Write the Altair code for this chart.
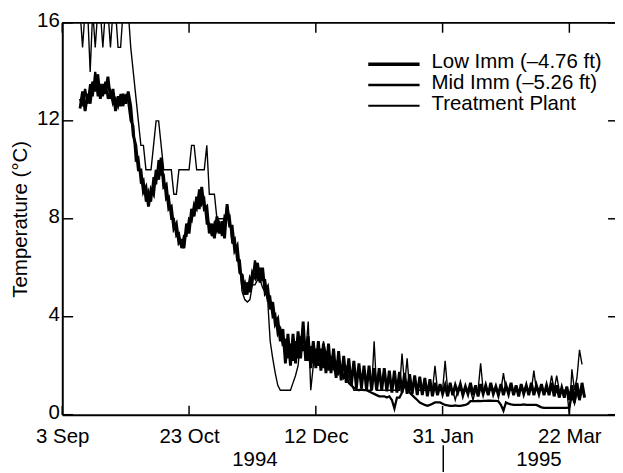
import altair as alt
import pandas as pd

# ---------------- data ----------------
series_names = ["Low Imm (\u20134.76 ft)", "Mid Imm (\u20135.26 ft)", "Treatment Plant"]
series_start = "1994-09-10"

low_imm = [
    12.5, 13.2, 12.4, 13.1, 12.7, 13.6, 13.2, 13.9, 12.9, 13.5,
    13.1, 13.8, 12.9, 13.3, 12.4, 13.0, 12.6, 13.1, 12.7, 13.2,
    12.6, 11.4, 11.0, 10.0, 10.0, 9.1, 9.3, 8.5, 9.2, 9.0,
    10.0, 9.6, 10.5, 9.3, 9.4, 8.4, 8.5, 7.6, 7.8, 7.0,
    7.1, 6.8, 7.8, 7.4, 8.4, 8.1, 8.9, 8.4, 9.3, 8.4,
    8.5, 7.4, 7.8, 7.2, 8.1, 7.4, 7.9, 7.2, 8.6, 7.7,
    7.7, 6.7, 6.9, 5.8, 5.7, 4.9, 5.4, 5.0, 5.8, 5.6,
    6.2, 5.4, 6.0, 5.0, 5.2, 4.3, 4.6, 3.7, 3.9, 3.0,
    3.5, 2.1, 3.3, 2.0, 3.3, 2.1, 3.4, 2.3, 3.8, 2.2,
    3.2, 1.9, 3.0, 1.9, 3.0, 1.8, 2.9, 1.7, 2.9, 1.7,
    2.7, 1.5, 2.6, 1.4, 2.4, 1.3, 2.3, 1.2, 2.2, 1.1,
    2.1, 1.1, 2.0, 1.0, 2.0, 1.0, 1.9, 1.0, 1.9, 1.0,
    1.9, 0.95, 1.8, 0.9, 1.8, 0.9, 1.75, 0.9, 1.7, 0.85,
    1.65, 0.85, 1.6, 0.8, 1.55, 0.8, 1.5, 0.75, 1.45, 0.75,
    1.3, 0.8, 1.25, 0.85, 1.2, 0.75, 1.3, 0.8, 1.2, 0.9,
    1.25, 0.8, 1.15, 0.85, 1.3, 0.8, 1.2, 0.75, 1.25, 0.85,
    1.2, 0.8, 1.3, 0.85, 1.15, 0.8, 1.25, 0.8, 1.2, 0.85,
    1.3, 0.8, 1.2, 0.75, 1.25, 0.85, 1.2, 0.8, 1.3, 0.8,
    1.2, 0.85, 1.25, 0.8, 1.2, 0.8, 1.3, 0.75, 1.2, 0.7,
    1.1, 0.7, 1.15, 0.6, 1.2, 0.5, 1.3, 0.6, 1.3, 0.7,
]

mid_imm = [
    12.9, 12.6, 13.3, 12.7, 13.5, 13.0, 14.0, 13.0, 13.5, 13.0,
    13.6, 12.9, 13.2, 12.7, 12.9, 12.6, 13.1, 12.6, 13.0, 12.8,
    12.0, 11.8, 10.4, 10.5, 9.5, 9.6, 8.7, 9.1, 8.7, 9.7,
    9.4, 10.4, 9.8, 9.8, 8.8, 8.9, 8.0, 8.0, 7.3, 7.4,
    6.8, 7.3, 7.3, 8.0, 7.9, 8.6, 8.4, 9.2, 8.6, 8.8,
    7.8, 7.8, 7.3, 7.8, 7.5, 7.8, 7.3, 8.1, 8.0, 8.1,
    7.1, 7.2, 6.3, 6.3, 5.2, 5.4, 4.9, 5.6, 5.4, 6.3,
    5.5, 6.0, 5.5, 5.5, 4.7, 4.8, 4.0, 4.1, 3.3, 3.5,
    2.8, 3.1, 2.3, 2.9, 2.2, 3.0, 2.3, 3.2, 2.6, 3.0,
    2.2, 2.8, 2.1, 2.7, 2.0, 2.7, 1.9, 2.6, 1.8, 2.4,
    1.9, 2.1, 1.7, 1.9, 1.5, 1.6, 1.3, 1.2, 1.1, 1.05,
    1.0, 1.05, 1.0, 1.0, 0.95, 0.9, 0.85, 0.8, 0.75, 0.75,
    0.75, 0.7, 0.75, 0.6, 0.25, 0.7, 0.7, 0.9, 1.2, 1.1,
    0.9, 0.8, 0.7, 0.6, 0.5, 0.45, 0.4, 0.36, 0.4, 0.45,
    0.5, 0.5, 0.5, 0.45, 0.4, 0.38, 0.36, 0.36, 0.38, 0.36,
    0.36, 0.38, 0.4, 0.45, 0.55, 0.55, 0.55, 0.56, 0.55, 0.56,
    0.56, 0.57, 0.57, 0.56, 0.56, 0.55, 0.4, 0.16, 0.5, 0.45,
    0.42, 0.4, 0.4, 0.4, 0.4, 0.42, 0.4, 0.4, 0.4, 0.4,
    0.4, 0.35, 0.3, 0.28, 0.28, 0.28, 0.28, 0.28, 0.28, 0.28,
    0.28, 0.28, 0.28, 0.3, 0.8, 0.5, 1.0, 0.6, 1.1, 0.7,
]

treatment = [
    16.5, 15, 16.5, 16.5, 14, 16.5, 15, 16.5, 16.5, 15,
    16.5, 16.5, 15, 16.5, 16.5, 15, 15, 16.5, 16.5, 16.5,
    15, 14, 13, 12, 11, 11, 10, 10, 10, 11,
    12, 12, 11, 10, 10, 10, 10, 9, 9, 10,
    10, 10, 10, 10, 11, 11, 10, 10, 10, 10,
    11, 9, 9, 9, 8, 8, 8, 8, 8.6, 8,
    7, 7, 6.5, 6, 5, 4.7, 4.6, 4.7, 5.3, 5.3,
    5.5, 5.5, 5.2, 5, 4.7, 3, 2.3, 1.7, 1.2, 1,
    1, 1, 1, 1, 1.3, 1.6, 2, 3, 3.7, 2.5,
    3.8, 1, 2, 2.5, 2.5, 2, 3, 2.5, 2, 2,
    2, 1.5, 2, 2, 1.5, 2, 1.5, 1.3, 1, 1,
    1, 1, 1, 1, 1, 1, 3, 1, 1, 1,
    1, 1, 1, 1, 1, 1, 1, 2.5, 1.2, 2.3,
    1, 1, 1.3, 1, 1, 1, 1, 1, 1, 1,
    2, 1, 1, 1, 2.2, 1, 1, 1, 0.6, 1,
    1, 1, 1, 1, 1, 0.6, 1, 1, 2.1, 1,
    1, 1, 1, 1, 1, 1, 1, 1.7, 1, 1,
    1, 1, 1, 1, 1, 1, 1, 1, 1, 1.8,
    1, 1, 1, 1, 1, 1, 1.6, 1, 1.6, 1,
    1, 1, 1, 0, 1.85, 1, 1.5, 2.65, 2.05,
]

tick_dates = ["1994-09-03", "1994-10-23", "1994-12-12", "1995-01-31", "1995-03-22"]
y_ticks = [0, 4, 8, 12, 16]
year_labels = ["1994", "1995"]
year_dates = ["1994-11-18", "1995-03-10"]

# ---------------- build frames ----------------
def series_frame(values, name):
    return pd.DataFrame({
        "date": pd.date_range(series_start, periods=len(values), freq="D"),
        "temp": values,
        "series": name,
    })

low_df = series_frame(low_imm, series_names[0])
mid_df = series_frame(mid_imm, series_names[1])
trt_df = series_frame(treatment, series_names[2])

W, H = 560, 397
FONT = "Liberation Sans"
FS = 20.7

x_scale = alt.Scale(domain=[alt.DateTime(year=1994, month=9, date=3),
                            alt.DateTime(year=1995, month=4, date=9)])
y_scale = alt.Scale(domain=[0, 16], nice=False)

x_axis = alt.Axis(values=[alt.DateTime(year=int(d[:4]), month=int(d[5:7]), date=int(d[8:]))
                          for d in tick_dates],
                  format="%-d %b", tickSize=0, labelPadding=12, labelFontSize=FS,
                  labelColor="black", domainColor="black", domainWidth=2,
                  grid=False, title=None, labelFlush=False)
y_axis = alt.Axis(values=y_ticks, tickSize=0, labelPadding=3, labelFontSize=FS,
                  labelColor="black", domainColor="black", domainWidth=2, grid=False,
                  labelOffset=-2,
                  title="Temperature (\u00b0C)", titleFontSize=FS, titleFontWeight="normal",
                  titleColor="black", titlePadding=6)

def line_layer(df, width):
    return alt.Chart(df).mark_line(color="black", strokeWidth=width, clip=True,
                                   strokeJoin="miter").encode(
        x=alt.X("date:T", scale=x_scale, axis=x_axis),
        y=alt.Y("temp:Q", scale=y_scale, axis=y_axis),
    )

lines = [line_layer(low_df, 2.9), line_layer(mid_df, 2.3), line_layer(trt_df, 1.4)]

tick_df = pd.DataFrame({"date": pd.to_datetime(tick_dates)})
bottom_ticks = alt.Chart(tick_df).mark_rule(color="black", strokeWidth=1.5).encode(
    x="date:T", y=alt.value(H), y2=alt.value(H - 9))
top_ticks = alt.Chart(tick_df).mark_rule(color="black", strokeWidth=1.5).encode(
    x="date:T", y=alt.value(0), y2=alt.value(10))

ytick_df = pd.DataFrame({"temp": y_ticks})
left_ticks = alt.Chart(ytick_df).mark_rule(color="black", strokeWidth=1.5).encode(
    y="temp:Q", x=alt.value(0), x2=alt.value(11))
right_ticks = alt.Chart(ytick_df).mark_rule(color="black", strokeWidth=1.5).encode(
    y="temp:Q", x=alt.value(W), x2=alt.value(W - 7))

top_border = alt.Chart(pd.DataFrame({"v": [0]})).mark_rule(color="black", strokeWidth=2).encode(
    x=alt.value(0), x2=alt.value(W), y=alt.value(0))

year_df = pd.DataFrame({"date": pd.to_datetime(year_dates), "label": year_labels})
years = alt.Chart(year_df).mark_text(fontSize=FS, font=FONT, color="black",
                                     baseline="middle", align="center").encode(
    x="date:T", y=alt.value(443), text="label:N")
separator = alt.Chart(pd.DataFrame({"v": [0]})).mark_rule(color="black", strokeWidth=1.5).encode(
    x=alt.value(386), y=alt.value(428), y2=alt.value(455))

legend_layers = []
legend_widths = [3.5, 2.6, 1.9]
for i, name in enumerate(series_names):
    ldf = pd.DataFrame({"label": [name]})
    yline = 42 + 21 * i
    legend_layers.append(alt.Chart(ldf).mark_rule(color="black", strokeWidth=legend_widths[i]).encode(
        x=alt.value(310), x2=alt.value(362), y=alt.value(yline)))
    legend_layers.append(alt.Chart(ldf).mark_text(fontSize=FS, font=FONT, color="black",
                                                  align="left", baseline="middle").encode(
        x=alt.value(374), y=alt.value(yline - 2), text="label:N"))

chart = alt.layer(
    *lines, bottom_ticks, top_ticks, left_ticks, right_ticks, top_border,
    years, separator, *legend_layers
).properties(
    width=W, height=H,
    padding={"left": 55, "top": 12, "right": 0, "bottom": 56},
    autosize=alt.AutoSizeParams(type="none"),
).configure(font=FONT).configure_view(stroke=None)

chart.save("out.html", embed_options={"renderer": "svg", "actions": False})
